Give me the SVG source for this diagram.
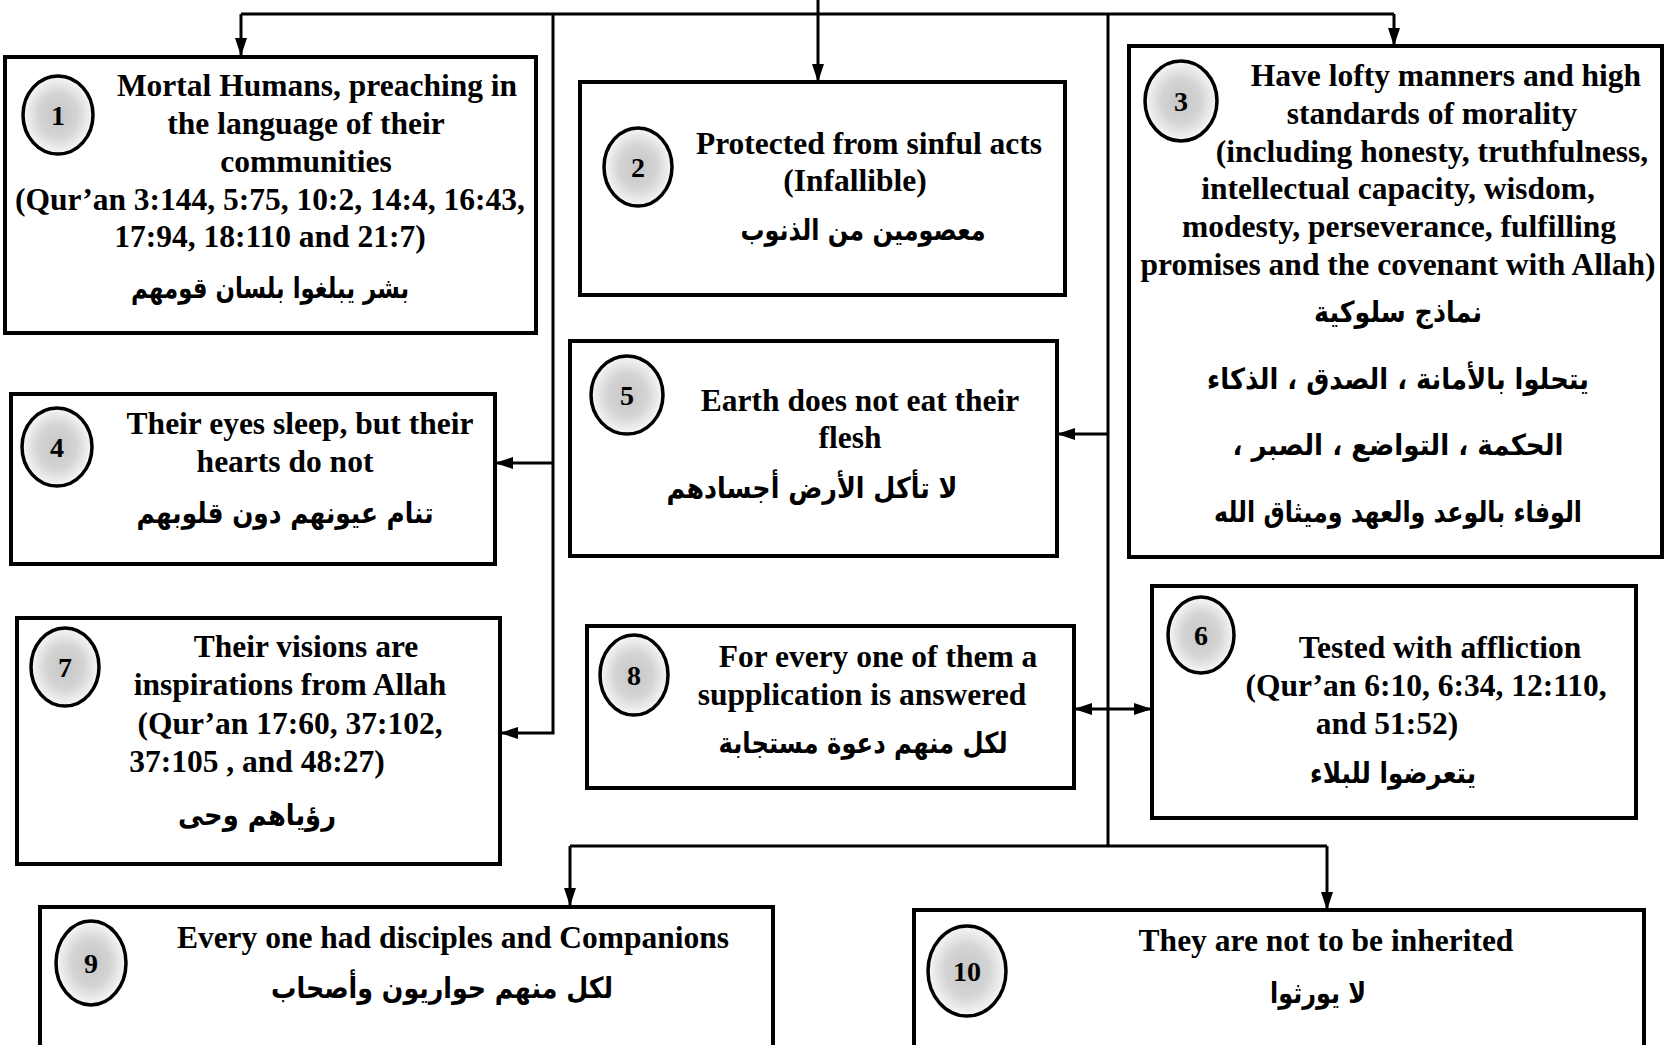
<svg xmlns="http://www.w3.org/2000/svg" width="1665" height="1045" viewBox="0 0 1665 1045">
<defs>
<radialGradient id="g" cx="50%" cy="50%" r="50%">
<stop offset="0" stop-color="#c6c6c6"/>
<stop offset="0.55" stop-color="#d4d4d4"/>
<stop offset="1" stop-color="#f7f7f7"/>
</radialGradient>
<marker id="ah" viewBox="0 0 18 12" refX="18" refY="6" markerWidth="18" markerHeight="12" markerUnits="userSpaceOnUse" orient="auto-start-reverse">
<path d="M0,0 L18,6 L0,12 z" fill="#000"/>
</marker>
<style>
.box{fill:#fff;stroke:#000;stroke-width:4}
.num{fill:url(#g);stroke:#000;stroke-width:3.5}
.nt{font-family:"Liberation Serif","Times New Roman",serif;font-weight:bold;font-size:28px;text-anchor:middle;fill:#000}
.en{font-family:"Liberation Serif","Times New Roman",serif;font-weight:bold;font-size:31.5px;text-anchor:middle;fill:#000}
.ar{font-family:"DejaVu Sans",sans-serif;font-weight:bold;font-size:29px;text-anchor:middle;fill:#000}
.cn{fill:none;stroke:#000;stroke-width:3}
</style>
</defs>
<rect width="1665" height="1045" fill="#fff"/>

<g id="connectors">
<path class="cn" d="M818,0 V82" marker-end="url(#ah)"/>
<path class="cn" d="M241,14 H1394"/>
<path class="cn" d="M241,14 V56" marker-end="url(#ah)"/>
<path class="cn" d="M1394,14 V46" marker-end="url(#ah)"/>
<path class="cn" d="M553,14 V733 H500" marker-end="url(#ah)"/>
<path class="cn" d="M553,463 H495" marker-end="url(#ah)"/>
<path class="cn" d="M1108,14 V846"/>
<path class="cn" d="M1108,434 H1057" marker-end="url(#ah)"/>
<path class="cn" d="M1074,709 H1152" marker-start="url(#ah)" marker-end="url(#ah)"/>
<path class="cn" d="M570,846 H1327"/>
<path class="cn" d="M570,846 V906" marker-end="url(#ah)"/>
<path class="cn" d="M1327,846 V910" marker-end="url(#ah)"/>
</g>

<g id="node1">
<rect class="box" x="5" y="57" width="531" height="276"/>
<ellipse class="num" cx="58" cy="115" rx="35" ry="39"/>
<text class="nt" x="58" y="125">1</text>
<text class="en" x="317" y="96">Mortal Humans, preaching in</text>
<text class="en" x="306" y="134">the language of their</text>
<text class="en" x="306" y="172">communities</text>
<text class="en" x="270" y="210">(Qur’an 3:144, 5:75, 10:2, 14:4, 16:43,</text>
<text class="en" x="270" y="247">17:94, 18:110 and 21:7)</text>
<text class="ar" x="270" y="298" direction="rtl" textLength="278" lengthAdjust="spacingAndGlyphs">بشر يبلغوا بلسان قومهم</text>
</g>

<g id="node2">
<rect class="box" x="580" y="82" width="485" height="213"/>
<ellipse class="num" cx="638" cy="167" rx="34" ry="39"/>
<text class="nt" x="638" y="177">2</text>
<text class="en" x="869" y="154">Protected from sinful acts</text>
<text class="en" x="855" y="191">(Infallible)</text>
<text class="ar" x="863" y="240" direction="rtl" textLength="245" lengthAdjust="spacingAndGlyphs">معصومين من الذنوب</text>
</g>

<g id="node3">
<rect class="box" x="1129" y="46" width="533" height="511"/>
<ellipse class="num" cx="1181" cy="101" rx="36" ry="40"/>
<text class="nt" x="1181" y="111">3</text>
<text class="en" x="1446" y="86">Have lofty manners and high</text>
<text class="en" x="1432" y="124">standards of morality</text>
<text class="en" x="1432" y="162">(including honesty, truthfulness,</text>
<text class="en" x="1398" y="199">intellectual capacity, wisdom,</text>
<text class="en" x="1399" y="237">modesty, perseverance, fulfilling</text>
<text class="en" x="1398" y="275">promises and the covenant with Allah)</text>
<text class="ar" x="1398" y="322" direction="rtl" textLength="168" lengthAdjust="spacingAndGlyphs">نماذج سلوكية</text>
<text class="ar" x="1398" y="389" direction="rtl" textLength="382" lengthAdjust="spacingAndGlyphs">يتحلوا بالأمانة ، الصدق ، الذكاء</text>
<text class="ar" x="1398" y="455" direction="rtl" textLength="331" lengthAdjust="spacingAndGlyphs">الحكمة ، التواضع ، الصبر ،</text>
<text class="ar" x="1398" y="522" direction="rtl" textLength="368" lengthAdjust="spacingAndGlyphs">الوفاء بالوعد والعهد وميثاق الله</text>
</g>

<g id="node4">
<rect class="box" x="11" y="394" width="484" height="170"/>
<ellipse class="num" cx="57" cy="447" rx="35" ry="39"/>
<text class="nt" x="57" y="457">4</text>
<text class="en" x="300" y="434">Their eyes sleep, but their</text>
<text class="en" x="285" y="472">hearts do not</text>
<text class="ar" x="285" y="523" direction="rtl" textLength="297" lengthAdjust="spacingAndGlyphs">تنام عيونهم  دون  قلوبهم</text>
</g>

<g id="node5">
<rect class="box" x="570" y="341" width="487" height="215"/>
<ellipse class="num" cx="627" cy="395" rx="36" ry="39"/>
<text class="nt" x="627" y="405">5</text>
<text class="en" x="860" y="411">Earth does not eat their</text>
<text class="en" x="850" y="448">flesh</text>
<text class="ar" x="812" y="498" direction="rtl" textLength="291" lengthAdjust="spacingAndGlyphs">لا تأكل الأرض أجسادهم</text>
</g>

<g id="node6">
<rect class="box" x="1152" y="586" width="484" height="232"/>
<ellipse class="num" cx="1201" cy="635" rx="33" ry="38"/>
<text class="nt" x="1201" y="645">6</text>
<text class="en" x="1440" y="658">Tested with affliction</text>
<text class="en" x="1426" y="696">(Qur’an 6:10, 6:34, 12:110,</text>
<text class="en" x="1387" y="734">and 51:52)</text>
<text class="ar" x="1393" y="783" direction="rtl" textLength="166" lengthAdjust="spacingAndGlyphs">يتعرضوا للبلاء</text>
</g>

<g id="node7">
<rect class="box" x="17" y="618" width="483" height="246"/>
<ellipse class="num" cx="65" cy="667" rx="34" ry="39"/>
<text class="nt" x="65" y="677">7</text>
<text class="en" x="306" y="657">Their visions are</text>
<text class="en" x="290" y="695">inspirations from Allah</text>
<text class="en" x="290" y="734">(Qur’an 17:60, 37:102,</text>
<text class="en" x="257" y="772">37:105 , and 48:27)</text>
<text class="ar" x="257" y="825" direction="rtl" textLength="158" lengthAdjust="spacingAndGlyphs">رؤياهم  وحى</text>
</g>

<g id="node8">
<rect class="box" x="587" y="626" width="487" height="162"/>
<ellipse class="num" cx="634" cy="675" rx="34" ry="40"/>
<text class="nt" x="634" y="685">8</text>
<text class="en" x="878" y="667">For every one of them a</text>
<text class="en" x="862" y="705">supplication is answered</text>
<text class="ar" x="863" y="753" direction="rtl" textLength="289" lengthAdjust="spacingAndGlyphs">لكل منهم دعوة مستجابة</text>
</g>

<g id="node9">
<rect class="box" x="40" y="907" width="733" height="150"/>
<ellipse class="num" cx="91" cy="963" rx="35" ry="42"/>
<text class="nt" x="91" y="973">9</text>
<text class="en" x="453" y="948">Every one had disciples and Companions</text>
<text class="ar" x="442" y="998" direction="rtl" textLength="342" lengthAdjust="spacingAndGlyphs">لكل منهم حواريون وأصحاب</text>
</g>

<g id="node10">
<rect class="box" x="914" y="910" width="730" height="150"/>
<ellipse class="num" cx="967" cy="971" rx="39" ry="45"/>
<text class="nt" x="967" y="981">10</text>
<text class="en" x="1326" y="951">They are not to be inherited</text>
<text class="ar" x="1318" y="1003" direction="rtl" textLength="96" lengthAdjust="spacingAndGlyphs">لا يورثوا</text>
</g>
</svg>
